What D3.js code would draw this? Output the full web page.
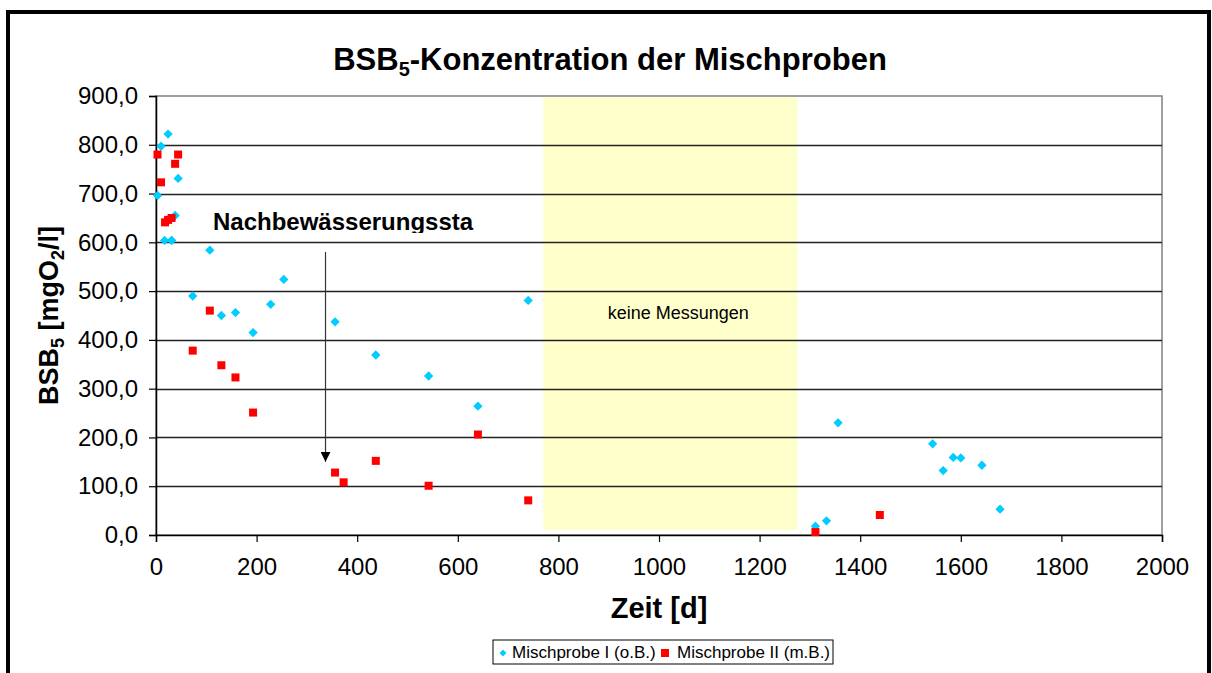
<!DOCTYPE html>
<html>
<head>
<meta charset="utf-8">
<script src="https://cdn.jsdelivr.net/npm/d3@7"></script>
<style>
  body { margin: 0; background: #fff; }
  svg { font-family: Arial, "Liberation Sans", sans-serif; }
</style>
</head>
<body>
<div id="chart"></div>
<script>
// Mischprobe I (o.B.) - days / BSB5
const daysI = [3, 10, 17, 24, 31, 38, 44, 31, 73, 107, 130, 158, 193, 228, 254, 356, 437, 542, 640, 740, 1311, 1333, 1356, 1544, 1565, 1585, 1600, 1642, 1678];
const valuesI = [696, 797, 604, 822, 604, 655, 731, 604, 490, 584, 450, 456, 415, 473, 524, 437, 369, 326, 264, 481, 18, 29, 230, 187, 132, 159, 158, 143, 53];
// Mischprobe II (m.B.)
const daysII = [3, 10, 18, 24, 31, 38, 44, 73, 107, 130, 158, 193, 356, 373, 437, 542, 640, 740, 1311, 1439];
const valuesII = [780, 723, 641, 646, 650, 761, 780, 378, 460, 348, 323, 251, 128, 108, 152, 101, 206, 71, 6, 41];

const xTicks = [0, 200, 400, 600, 800, 1000, 1200, 1400, 1600, 1800, 2000];
const yTicks = [0, 100, 200, 300, 400, 500, 600, 700, 800, 900];
const seriesNames = ["Mischprobe I (o.B.)", "Mischprobe II (m.B.)"];
const gapRange = [770, 1275]; // keine Messungen
const gapValues = [10, 897];
const arrowFrom = [337, 580];
const arrowTo = [337, 150];

const width = 1212;
const height = 673;
const margin = { left: 156, right: 50, top: 96, bottom: 138 };

const svg = d3.select("#chart")
  .append("svg")
  .attr("width", width)
  .attr("height", height);

// outer frame
svg.append("rect")
  .attr("x", 8).attr("y", 12)
  .attr("width", 1201).attr("height", 720)
  .attr("fill", "#fff")
  .attr("stroke", "#000")
  .attr("stroke-width", 4);

const x = d3.scaleLinear().domain([0, 2000]).range([margin.left, width - margin.right]);
const y = d3.scaleLinear().domain([0, 900]).range([height - margin.bottom, margin.top]);

// plot border
svg.append("rect")
  .attr("x", x(0)).attr("y", y(900))
  .attr("width", x(2000) - x(0)).attr("height", y(0) - y(900))
  .attr("fill", "none")
  .attr("stroke", "#808080")
  .attr("stroke-width", 1.5);

// yellow gap box
svg.append("rect")
  .attr("x", x(gapRange[0])).attr("y", y(gapValues[1]))
  .attr("width", x(gapRange[1]) - x(gapRange[0]))
  .attr("height", y(gapValues[0]) - y(gapValues[1]))
  .attr("fill", "#ffffcc");

// grid
svg.append("g")
  .selectAll("line")
  .data(yTicks.filter(d => d > 0 && d < 900))
  .enter().append("line")
  .attr("x1", x(0)).attr("x2", x(2000))
  .attr("y1", d => Math.round(y(d)) + 0.5).attr("y2", d => Math.round(y(d)) + 0.5)
  .attr("stroke", "#222")
  .attr("stroke-width", 1.3);

svg.append("text")
  .attr("x", x((gapRange[0] + gapRange[1]) / 2) + 8)
  .attr("y", y(443))
  .attr("text-anchor", "middle")
  .attr("font-size", 18)
  .text("keine Messungen");

// axes
const fmt = d => d3.format(".1f")(d).replace(".", ",");
const yAxis = svg.append("g")
  .attr("transform", `translate(${x(0)},0)`)
  .call(d3.axisLeft(y).tickValues(yTicks).tickFormat(fmt).tickSize(7).tickPadding(11));
const xAxis = svg.append("g")
  .attr("transform", `translate(0,${y(0)})`)
  .call(d3.axisBottom(x).tickValues(xTicks).tickFormat(d3.format("d")).tickSize(7).tickPadding(16));
[yAxis, xAxis].forEach(a => {
  a.select(".domain").attr("stroke", "#000").attr("stroke-width", 1.5);
  a.selectAll(".tick line").attr("stroke", "#000").attr("stroke-width", 1.2);
  a.selectAll("text").attr("font-size", 24).attr("fill", "#000")
    .attr("font-family", "Arial, 'Liberation Sans', sans-serif");
});

// annotation (text box is cut off in the original)
svg.append("clipPath").attr("id", "annClip")
  .append("rect").attr("x", 150).attr("y", 200).attr("width", 400).attr("height", 33);
svg.append("text")
  .attr("clip-path", "url(#annClip)")
  .attr("x", 213).attr("y", 230)
  .attr("font-size", 24).attr("font-weight", "bold")
  .text("Nachbewässerungssta");

svg.append("defs").append("marker")
  .attr("id", "arrowHead")
  .attr("viewBox", "0 0 10 10")
  .attr("refX", 10).attr("refY", 5)
  .attr("markerWidth", 10).attr("markerHeight", 10)
  .attr("markerUnits", "userSpaceOnUse")
  .attr("orient", "auto")
  .append("path").attr("d", "M0,0 L10,5 L0,10 z").attr("fill", "#000");

svg.append("line")
  .attr("x1", x(arrowFrom[0])).attr("y1", y(arrowFrom[1]))
  .attr("x2", x(arrowTo[0])).attr("y2", y(arrowTo[1]))
  .attr("stroke", "#333").attr("stroke-width", 1.2)
  .attr("marker-end", "url(#arrowHead)");

// points
const diamond = d3.symbol().type(d3.symbolDiamond2).size(55);
svg.append("g")
  .selectAll("path")
  .data(daysI.map((d, i) => [d, valuesI[i]]))
  .enter().append("path")
  .attr("d", diamond)
  .attr("transform", d => `translate(${x(d[0])},${y(d[1])})`)
  .attr("fill", "#00ccff");

svg.append("g")
  .selectAll("rect")
  .data(daysII.map((d, i) => [d, valuesII[i]]))
  .enter().append("rect")
  .attr("x", d => x(d[0]) - 4).attr("y", d => y(d[1]) - 4)
  .attr("width", 8).attr("height", 8)
  .attr("fill", "#ff0000");

// titles
const title = svg.append("text")
  .attr("x", 610).attr("y", 70)
  .attr("text-anchor", "middle")
  .attr("font-size", 31).attr("font-weight", "bold");
title.append("tspan").text("BSB");
title.append("tspan").attr("font-size", 20).attr("dy", 6).text("5");
title.append("tspan").attr("dy", -6).text("-Konzentration der Mischproben");

svg.append("text")
  .attr("x", (x(0) + x(2000)) / 2).attr("y", 618)
  .attr("text-anchor", "middle")
  .attr("font-size", 29).attr("font-weight", "bold")
  .text("Zeit [d]");

const yLabel = svg.append("text")
  .attr("transform", `translate(58,${(y(0) + y(900)) / 2}) rotate(-90)`)
  .attr("text-anchor", "middle")
  .attr("font-size", 27).attr("font-weight", "bold");
yLabel.append("tspan").text("BSB");
yLabel.append("tspan").attr("font-size", 18).attr("dy", 6).text("5");
yLabel.append("tspan").attr("dy", -6).text(" [mgO");
yLabel.append("tspan").attr("font-size", 18).attr("dy", 6).text("2");
yLabel.append("tspan").attr("dy", -6).text("/l]");

// legend
const legend = svg.append("g").attr("transform", "translate(493,640)");
legend.append("rect")
  .attr("width", 340).attr("height", 24)
  .attr("fill", "#fff").attr("stroke", "#000").attr("stroke-width", 1);
legend.append("path")
  .attr("d", d3.symbol().type(d3.symbolDiamond2).size(30))
  .attr("transform", "translate(10,13)")
  .attr("fill", "#00ccff");
legend.append("text").attr("x", 19).attr("y", 18).attr("font-size", 17).text(seriesNames[0]);
legend.append("rect").attr("x", 168).attr("y", 9).attr("width", 8).attr("height", 8).attr("fill", "#ff0000");
legend.append("text").attr("x", 184).attr("y", 18).attr("font-size", 17).text(seriesNames[1]);
</script>
</body>
</html>
